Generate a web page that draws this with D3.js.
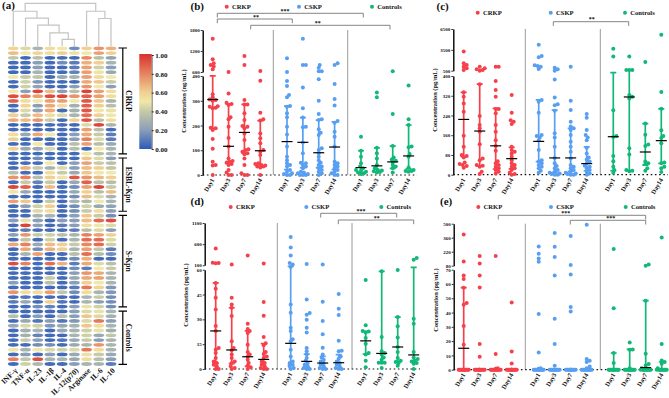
<!DOCTYPE html>
<html>
<head>
<meta charset="utf-8">
<script src="https://cdn.jsdelivr.net/npm/d3@7"></script>
<style>
  html, body { margin: 0; padding: 0; background: #fff; }
  svg { display: block; }
  text { font-family: "Liberation Serif", serif; font-weight: bold; fill: #111; }
</style>
</head>
<body>
<div id="chart"></div>
<script>
// Heatmap data
const cytokines = ['INF-γ', 'TNF-α', 'IL-23', 'IL-1β', 'IL-4', 'IL-12(p70)', 'Arginase', 'IL-6', 'IL-10'];
const heatRows = [
  [.58,.45,.3,.55,.5,.15,.6,.75,.68],
  [.65,.5,.58,.55,.6,.48,.5,.72,.6],
  [.38,.04,.35,.04,.06,.05,.78,.35,.22],
  [.05,.05,.2,.05,.15,.1,.68,.6,.3],
  [.04,.05,.2,.05,.05,.1,.72,.42,.2],
  [.04,.05,.3,.05,.05,.12,.72,.52,.25],
  [.5,.4,.38,.05,.25,.3,.72,.55,.5],
  [.05,.42,.18,.05,.05,.05,.7,.62,.4],
  [.05,.42,.22,.05,.05,.2,.75,.5,.2],
  [.5,.2,.95,.65,.2,.35,.95,.72,.55],
  [.93,.8,.72,.93,.95,.75,.88,.72,.55],
  [.88,.55,.5,.72,.72,.5,.9,.62,.3],
  [.05,.58,.2,.7,.55,.28,.88,.6,.35],
  [.08,.45,.22,.7,.05,.28,.9,.5,.48],
  [.6,.4,.65,.55,.45,.3,.85,.6,.5],
  [.7,.65,.75,.4,.05,.6,.92,.35,.55],
  [.03,.05,.05,.05,.05,.05,.45,.95,.3],
  [.05,.05,.05,.05,.05,.05,.72,.35,.05],
  [.55,.25,.7,.5,.05,.2,.7,.4,.1],
  [.6,.05,.05,.05,.05,.2,.8,.45,.1],
  [.05,.05,.5,.05,.05,.35,.72,.35,.25],
  [.6,.25,.25,.45,.05,.35,.05,.5,.3],
  [.05,.05,.05,.05,.05,.05,.5,.35,.3],
  [.05,.05,.15,.05,.05,.05,.62,.45,.2],
  [.05,.05,.05,.5,.05,.2,.72,.4,.35],
  [.05,.68,.4,.3,.45,.2,.65,.6,.38],
  [.35,.05,.05,.55,.4,.25,.62,.5,.5],
  [.75,.8,.35,.6,.52,.9,.75,.65,.6],
  [.05,.4,.12,.4,.05,.25,.88,.35,.35],
  [.95,.88,.05,.65,.05,.15,.72,.95,.4],
  [.52,.25,.05,.05,.05,.25,.6,.35,.65],
  [.05,.05,.05,.05,.05,.15,.65,.45,.3],
  [.72,.62,.05,.4,.05,.3,.32,.5,.3],
  [.05,.2,.42,.6,.05,.15,.42,.25,.22],
  [.05,.05,.45,.55,.05,.15,.4,.55,.2],
  [.05,.05,.3,.3,.05,.2,.62,.4,.15],
  [.2,.48,.2,.05,.2,.2,.65,.85,.93],
  [.05,.95,.2,.05,.1,.2,.55,.5,.45],
  [.05,.1,.05,.05,.05,.1,.35,.45,.2],
  [.2,.75,.4,.42,.35,.3,.8,.72,.6],
  [.05,.38,.05,.42,.05,.3,.85,.85,.45],
  [.7,.8,.25,.65,.6,.4,.78,.85,.42],
  [.05,.7,.15,.68,.6,.3,.72,.38,.1],
  [.05,.3,.72,.05,.05,.35,.85,.33,.15],
  [.05,.05,.05,.05,.05,.15,.68,.05,.05],
  [.93,.8,.05,.85,.68,.1,.7,.45,.35],
  [.05,.05,.05,.05,.05,.15,.1,.5,.4],
  [.05,.05,.05,.05,.05,.2,.75,.7,.3],
  [.05,.05,.05,.4,.05,.25,.7,.72,.3],
  [.2,.05,.05,.35,.05,.2,.6,.5,.3],
  [.05,.05,.05,.05,.05,.1,.82,.58,.18],
  [.75,.55,.55,.72,.38,.15,.55,.3,.18],
  [.05,.08,.05,.05,.05,.05,.3,.4,.15],
  [.1,.25,.05,.6,.08,.05,.3,.2,.15],
  [.05,.05,.15,.12,.05,.2,.48,.42,.15],
  [.05,.05,.05,.05,.05,.2,.45,.48,.3],
  [.35,.05,.2,.05,.35,.2,.62,.45,.28],
  [.05,.25,.08,.2,.08,.18,.45,.82,.2],
  [.25,.45,.42,.18,.25,.3,.62,.55,.3],
  [.05,.28,.3,.05,.25,.3,.42,.48,.28],
  [.05,.28,.12,.05,.05,.3,.42,.25,.38],
  [.05,.4,.2,.05,.08,.25,.4,.2,.3],
  [.05,.05,.15,.15,.05,.25,.3,.75,.3],
  [.52,.3,.5,.45,.42,.45,.82,.55,.3],
  [.05,.2,.05,.2,.05,.25,.48,.4,.25],
  [.8,.38,.92,.3,.3,.25,.55,.35,.2],
  [.05,.42,.32,.05,.05,.2,.3,.3,.1]
];
const heatGroups = [
  { name: 'CRKP', first: 0, last: 22 },
  { name: 'ESBL-Kpn', first: 23, last: 34 },
  { name: 'S-Kpn', first: 35, last: 54 },
  { name: 'Controls', first: 55, last: 66 }
];
const colorTicks = [0, 0.2, 0.4, 0.6, 0.8, 1];
// dendrogram: leaf = column index, node = { h, kids }
const dendro = { h: 43, kids: [
  { h: 35, kids: [0, { h: 28, kids: [1, { h: 21, kids: [2, { h: 13.3, kids: [3, { h: 6.7, kids: [4, 5] }] }] }] }] },
  { h: 35, kids: [6, { h: 27.7, kids: [7, 8] }] }
] };

// Scatter data, order: CRKP D1,3,7,14, CSKP D1,3,7,14, Controls D1,3,7,14
const days = ['Day1', 'Day3', 'Day7', 'Day14'];
const groupNames = ['CRKP', 'CSKP', 'Controls'];
const groupColors = ['#f5414b', '#589ff2', '#12b877'];

const bValues = [
  [1550,965,850,800,755,680,326,314,305,303,300,278,276,272,270,191,189,182,145,106,54,40,38,0],
  [600,329,292,287,283,233,225,195,150,115,67,57,54,50,44,40,20,10,0,0],
  [1060,800,303,285,285,249,222,198,195,188,168,141,104,101,94,88,84,67,40,7,0,0],
  [630,381,252,225,220,168,148,128,101,94,81,47,44,40,38,34,30,34,0],
  [990,600,380,360,323,314,279,276,249,233,195,164,115,74,60,47,40,34,20,13,7,4,0,0],
  [1550,800,800,354,270,232,195,193,131,88,50,47,40,34,27,13,10,7,4,0,0,0],
  [800,725,620,620,387,300,246,225,222,185,171,162,108,101,88,74,60,50,40,34,27,20,13,7,0],
  [850,800,368,307,281,218,211,175,155,115,54,47,40,34,27,20,13,7,0,0],
  [155,98,74,47,34,27,20,18,13,10,7,4],
  [333,314,110,88,67,40,27,20,18,15,12,10],
  [620,246,117,71,63,58,52,40,34,27,10],
  [362,225,202,115,112,85,74,30,20,16,13,16]
];
const bMedian = [305,116,172,98,135,132,90,113,30,37,53,77];
const bQ1 = [188,54,88,35,22,30,30,22,10,14,27,25];
const bQ3 = [408,287,285,220,278,232,222,215,98,110,117,202];

const cValues = [
  [3260,1565,1320,1080,840,600,334,316,289,255,158,113,80,76,70,49,43,39,35,28],
  [1080,840,700,600,500,367,238,201,188,174,123,66,59,39,36,32,12,3],
  [1080,1080,380,343,316,266,266,249,201,174,140,116,97,55,46,39,32,26,19,12,5],
  [323,251,221,215,205,113,100,93,86,73,59,46,39,32,26,19,8,3,0],
  [4230,2630,2440,1270,1180,1080,740,303,296,251,161,157,151,140,100,59,54,46,39,32,26,16,8],
  [935,694,500,386,313,286,281,259,168,151,113,68,46,35,26,19,12,8,5,3,0,0],
  [1080,300,262,215,195,188,181,161,134,113,93,66,39,32,26,19,12,8,5,3,0,0],
  [246,231,181,161,151,140,109,86,70,62,53,46,36,32,26,19,12,5,0],
  [3646,2530,261,153,157,76,55,32,19,8],
  [2530,600,600,600,323,316,309,107,82,19,16,14],
  [1760,207,162,122,116,54,46,42,26,16],
  [5680,335,267,180,157,149,127,49,46,32,26,11]
];
const cMedian = [224,177,117,65,135,68,68,45,154,315,92,138];
const cQ1 = [73,36,23,24,53,10,14,16,16,16,39,46];
const cQ3 = [334,367,269,111,303,262,188,113,462,600,207,267];

const dValues = [
  [495,163,155,147,52,48.5,43,36,26,23,12.7,11.7,9.7,6.6,4.6,3.6,2.6,1.6,0,0],
  [116,43,39,37,32,16.7,12.7,11.3,8.7,6.6,4.6,3.6,1.6,.6,0],
  [330,27.4,24.2,23,21.7,14.7,10.3,8.7,7.4,5.6,3.6,2,1,0],
  [140,40.5,32.2,19.3,15.5,14.3,10.3,9,7.6,6.6,4.6,3.6,2.6,1.6,.6,0,0],
  [770,520,330,155,116,85,39,34,25,23,18,16.7,11.7,7.6,4.6,3.6,2.6,1.6,.6,0],
  [130,42,33.8,32.8,29.8,25,22,12.7,10.7,8.7,6.6,5,3.6,2.6,1.6,.6,0,0],
  [116,40.7,29,21,12.9,8.7,7,5.6,4.6,3.6,2.6,1.6,.6,0,0],
  [45.3,36.4,32.6,17,11,10.7,7.6,6.2,4.6,3.6,2.6,1.6,.6,0,0],
  [53.8,26.4,23,22.7,22,18.7,15.3,9.7,8.7,5,1],
  [59,19.3,10.7,9.7,8.7,7,5.6,3.8,3.8,3.8,.6],
  [59.8,31.4,25.8,19,13.3,10.3,6.6,5,4.2,3.6,2],
  [274,234,30.4,27.4,10.3,7,6,5.2,4.6,3.6,3.2,0]
];
const dMedian = [23,11.5,7.4,5.8,15.5,4.6,3.6,3.8,17,9.4,13.3,8.5];
const dQ1 = [3.4,3.2,1.6,.2,2.6,1,.6,.6,9,3.8,4.6,4.6];
const dQ3 = [52,37,23,15.3,90,9,7.6,8.7,22.7,59,31.4,82];

const eValues = [
  [393,123,66,63.5,57.4,46.7,45.5,30.6,17.5,0,0,0,0,0,0,0,0,0,0,0,0],
  [177,103,66,57.6,18,9,0,0,0,0,0,0,0,0,0,0,0,0,0,0],
  [177,11,1,.7,0,0,0,0,0,0,0,0,0,0,0,0],
  [47,12.8,4.4,0,0,0,0,0,0,0,0,0,0,0,0,0,0],
  [273,200,153,120,39,12,1,.7,0,0,0,0,0,0,0,0,0,0,0,0],
  [407,270,167,66,35.7,18,2.8,0,0,0,0,0,0,0,0,0,0,0,0],
  [377,87,66.7,43.9,40.8,0,0,0,0,0,0,0,0,0,0,0,0,0,0],
  [490,7.5,6.3,5.4,2.3,1,0,0,0,0,0,0,0,0,0,0,0,0],
  [247,43,11.7,4.7,0,0,0,0,0,0,0,0,0,0,0,0],
  [19,14.2,14,1,0,0,0,0,0,0,0,0,0,0,0,0],
  [93,80,48.3,11.2,4,3,1,0,0,0,0,0,0,0,0,0,0],
  [363,18,6.5,5.4,4.2,1,0,0,0,0,0,0,0,0,0,0]
];
const eMedian = [15,0,0,0,0,0,0,0,0,0,1.5,0];
const eQ1 = [0,0,0,0,0,0,0,0,0,0,0,0];
const eQ3 = [57.4,0,0,0,0,0,0,0,11.7,14.2,48.3,5.4];

const bLowTicks = [0,100,200,300,400], bHighTicks = [600,1200,1800];
const cLowTicks = [0,80,160,240,320,400], cHighTicks = [500,3500,6500];
const dLowTicks = [0,15,30,45,60], dHighTicks = [100,600,1100];
const eLowTicks = [0,10,20,30,40,50,60,70], eHighTicks = [80,220,360,500];

const width = 669, height = 398;
const svg = d3.select('#chart').append('svg').attr('width', width).attr('height', height);

const heatColor = d3.scaleLinear()
  .domain([0, 0.2, 0.4, 0.5, 0.6, 0.8, 1])
  .range(['#2b5ab8', '#8a9eb8', '#c6caa6', '#f0e8a8', '#f1cf90', '#e6805e', '#d9302c']);

function drawHeatmap() {
  const x = d3.scalePoint().domain(d3.range(cytokines.length)).range([13.3, 111]);
  const y = d3.scaleLinear().domain([0, heatRows.length - 1]).range([48.3, 364]);
  const g = svg.append('g');

  g.append('text').attr('x', 2).attr('y', 9).style('font-size', '11px').text('(a)');

  heatRows.forEach((row, r) => {
    g.selectAll(null).data(row).enter().append('ellipse')
      .attr('cx', (d, i) => x(i))
      .attr('cy', y(r))
      .attr('rx', 5.4)
      .attr('ry', 1.9)
      .attr('fill', d => heatColor(d));
  });

  // dendrogram
  const h = d3.scaleLinear().domain([0, dendro.h]).range([46, 3.3]);
  const walk = node => {
    if (typeof node === 'number') return { px: x(node), py: h(0) };
    const [a, b] = node.kids.map(walk);
    const top = h(node.h);
    g.append('path')
      .attr('d', `M${a.px},${a.py}V${top}H${b.px}V${b.py}`)
      .attr('fill', 'none').attr('stroke', '#c4c4c4').attr('stroke-width', 1.2);
    return { px: (a.px + b.px) / 2, py: top };
  };
  walk(dendro);

  // group brackets
  heatGroups.forEach(d => {
    const y0 = y(d.first) - 0.3, y1 = y(d.last) + 0.3;
    g.append('path')
      .attr('d', `M118.5,${y0}H127M122.8,${y0}V${y1}M118.5,${y1}H127`)
      .attr('fill', 'none').attr('stroke', '#000').attr('stroke-width', 1.2);
    const my = (y0 + y1) / 2;
    g.append('text')
      .attr('transform', `translate(126,${my}) rotate(90)`)
      .attr('text-anchor', 'middle')
      .style('font-size', '7.5px')
      .text(d.name);
  });

  // column labels
  g.selectAll(null).data(cytokines).enter().append('text')
    .attr('transform', (d, i) => `translate(${x(i) + 4.5},371) rotate(-45)`)
    .attr('text-anchor', 'end')
    .style('font-size', '7.6px')
    .text(d => d);

  // colour bar
  const cy = d3.scaleLinear().domain([0, 1]).range([149, 55]);
  const defs = svg.append('defs');
  const grad = defs.append('linearGradient').attr('id', 'bar').attr('x1', 0).attr('x2', 0).attr('y1', 1).attr('y2', 0);
  heatColor.domain().forEach(v => {
    grad.append('stop').attr('offset', v).attr('stop-color', heatColor(v));
  });
  g.append('rect').attr('x', 139.3).attr('y', cy(1) - 1).attr('width', 12.4).attr('height', cy(0) - cy(1) + 1).attr('fill', 'url(#bar)');
  const axis = d3.axisRight(cy).tickValues(colorTicks).tickFormat(d3.format('.2f')).tickSize(2).tickPadding(1.5).tickSizeOuter(0);
  const ag = g.append('g').attr('transform', 'translate(151.7,0)').call(axis);
  ag.selectAll('text').style('font-size', '7px');
  ag.select('.domain').attr('stroke', '#222').attr('stroke-width', 0.6);
  ag.selectAll('line').attr('stroke', '#222');
}

// spreads the points of one column sideways so that they do not pile up
function dodge(values, y, maxWidth) {
  const placed = [];
  const steps = d3.range(0, maxWidth + 0.01, 1).flatMap(d => d === 0 ? [0] : [d, -d]);
  return [...values].sort((a, b) => a - b).map(v => {
    const py = y(v);
    let best = 0, bestDist = -1;
    for (const off of steps) {
      let dist = Infinity;
      placed.forEach(p => { dist = Math.min(dist, Math.hypot(p.off - off, p.py - py)); });
      if (dist >= 2.8) { best = off; bestDist = Infinity; break; }
      if (dist > bestDist) { bestDist = dist; best = off; }
    }
    const pt = { v, off: best, py };
    placed.push(pt);
    return pt;
  });
}

function drawPanel(p) {
  const g = svg.append('g');

  // broken y axis made of two linear parts
  const yLow = d3.scaleLinear().domain([p.lowTicks[0], p.lowTicks[p.lowTicks.length - 1]]).range([p.y0, p.yBreakLow]);
  const yHigh = d3.scaleLinear().domain([p.highTicks[0], p.highTicks[p.highTicks.length - 1]]).range([p.yBreakHigh, p.yTop]);
  const y = d3.scaleLinear()
    .domain([...yLow.domain(), ...yHigh.domain()])
    .range([...yLow.range(), ...yHigh.range()]);

  const x = d3.scaleLinear().domain([0, 3]).range(p.x0);
  const colX = i => p.groupStart[Math.floor(i / 4)] + (x(i % 4) - x(0));

  g.append('text').attr('x', p.labelX).attr('y', p.labelY).style('font-size', '11px').text(p.label);

  // separators
  g.selectAll(null).data(p.seps).enter().append('line')
    .attr('x1', d => d).attr('x2', d => d)
    .attr('y1', p.yTop).attr('y2', p.y0)
    .attr('stroke', '#9a9a9a').attr('stroke-width', 1);

  // axes
  [[yLow, p.lowTicks], [yHigh, p.highTicks]].forEach(([scale, ticks]) => {
    const a = g.append('g').attr('transform', `translate(${p.axisX},0)`)
      .call(d3.axisLeft(scale).tickValues(ticks).tickFormat(d3.format('d')).tickSize(2).tickSizeOuter(0).tickPadding(1));
    a.select('.domain').attr('stroke', '#000').attr('stroke-width', 1.4);
    a.selectAll('line').attr('stroke', '#000').attr('stroke-width', 0.8);
    a.selectAll('text').style('font-size', '5px');
  });

  g.append('line')
    .attr('x1', p.axisX).attr('x2', p.axisEnd)
    .attr('y1', p.y0).attr('y2', p.y0)
    .attr('stroke', '#111').attr('stroke-width', 1.2).attr('stroke-dasharray', '1.6,2.6');

  g.append('text')
    .attr('transform', `translate(${p.yLabelX},${p.yLabelY}) rotate(-90)`)
    .attr('text-anchor', 'middle')
    .style('font-size', '6.4px')
    .text(p.yLabel);

  // legend
  groupNames.forEach((name, i) => {
    g.append('circle').attr('cx', p.legendX[i]).attr('cy', p.legendY).attr('r', 2).attr('fill', groupColors[i]);
    g.append('text').attr('x', p.legendX[i] + 5.3).attr('y', p.legendY + 2.2).style('font-size', '6.6px').text(name);
  });

  // columns
  p.values.forEach((vals, i) => {
    const color = groupColors[Math.floor(i / 4)];
    const cx = colX(i);
    if (p.q3[i] > 0) {
      g.append('path')
        .attr('d', `M${cx - 3},${y(p.q3[i])}H${cx + 3}M${cx},${y(p.q3[i])}V${y(p.q1[i])}M${cx - 3},${y(p.q1[i])}H${cx + 3}`)
        .attr('fill', 'none').attr('stroke', color).attr('stroke-width', 1.7);
    }
    g.selectAll(null).data(dodge(vals, y, 5)).enter().append('circle')
      .attr('cx', d => cx + d.off)
      .attr('cy', d => d.py)
      .attr('r', 2)
      .attr('fill', color);
    if (p.median[i] > 0) {
      g.append('line')
        .attr('x1', cx - 5.5).attr('x2', cx + 5.5)
        .attr('y1', y(p.median[i])).attr('y2', y(p.median[i]))
        .attr('stroke', '#000').attr('stroke-width', 1.2);
    }
    g.append('text')
      .attr('transform', `translate(${cx + 2},${p.y0 + 5}) rotate(-60)`)
      .attr('text-anchor', 'end')
      .style('font-size', '6.4px')
      .text(days[i % 4]);
  });

  // significance brackets
  p.brackets.forEach(b => {
    g.append('path')
      .attr('d', `M${b.from},${b.y + 4.2}V${b.y}H${b.to}V${b.y + 4.2}`)
      .attr('fill', 'none').attr('stroke', '#777').attr('stroke-width', 0.9);
    g.append('text')
      .attr('x', b.sx).attr('y', b.y - 0.3)
      .attr('text-anchor', 'middle')
      .style('font-size', '6px')
      .text(b.stars);
  });
}

drawHeatmap();

drawPanel({
  label: '(b)', labelX: 190.5, labelY: 10,
  values: bValues, median: bMedian, q1: bQ1, q3: bQ3,
  lowTicks: bLowTicks, highTicks: bHighTicks,
  y0: 175, yBreakLow: 76, yBreakHigh: 72, yTop: 30,
  axisX: 202.7, axisEnd: 417,
  x0: [212.7, 260.3], groupStart: [212.7, 287, 361],
  seps: [273.3, 347.7],
  yLabel: 'Concentration (ng/mL)', yLabelX: 185.5, yLabelY: 101,
  legendX: [226.7, 299, 372], legendY: 6.7,
  brackets: [
    { from: 217.3, to: 363.3, y: 13.3, sx: 285, stars: '***' },
    { from: 217.3, to: 292.3, y: 19, sx: 256, stars: '**' },
    { from: 250.7, to: 390, y: 25.3, sx: 317.7, stars: '**' }
  ]
});

drawPanel({
  label: '(c)', labelX: 436.5, labelY: 10,
  values: cValues, median: cMedian, q1: cQ1, q3: cQ3,
  lowTicks: cLowTicks, highTicks: cHighTicks,
  y0: 174.7, yBreakLow: 76, yBreakHigh: 70.7, yTop: 29,
  axisX: 453.3, axisEnd: 668,
  x0: [463.7, 511.7], groupStart: [463.7, 538.7, 613.3],
  seps: [525.3, 600.3],
  yLabel: 'Concentration (pg/mL)', yLabelX: 437, yLabelY: 100,
  legendX: [477.7, 550.7, 625], legendY: 12.7,
  brackets: [
    { from: 553.3, to: 628.7, y: 21.7, sx: 591.7, stars: '**' }
  ]
});

drawPanel({
  label: '(d)', labelX: 190.5, labelY: 205,
  values: dValues, median: dMedian, q1: dQ1, q3: dQ3,
  lowTicks: dLowTicks, highTicks: dHighTicks,
  y0: 369, yBreakLow: 269.7, yBreakHigh: 265.3, yTop: 223,
  axisX: 204.7, axisEnd: 420,
  x0: [215.7, 263.7], groupStart: [215.7, 290.7, 365.7],
  seps: [277.3, 352],
  yLabel: 'Concentration (pg/mL)', yLabelX: 188, yLabelY: 295,
  legendX: [230.7, 306.3, 381.3], legendY: 207,
  brackets: [
    { from: 320.7, to: 396.7, y: 213.3, sx: 361, stars: '***' },
    { from: 338.3, to: 413.7, y: 220, sx: 376.7, stars: '**' }
  ]
});

drawPanel({
  label: '(e)', labelX: 440, labelY: 205,
  values: eValues, median: eMedian, q1: eQ1, q3: eQ3,
  lowTicks: eLowTicks, highTicks: eHighTicks,
  y0: 369.7, yBreakLow: 269.7, yBreakHigh: 265.7, yTop: 223.7,
  axisX: 453.7, axisEnd: 668,
  x0: [463.7, 511.7], groupStart: [463.7, 538.7, 613.7],
  seps: [525.3, 600.3],
  yLabel: 'Concentration (pg/mL)', yLabelX: 438, yLabelY: 300,
  legendX: [478.3, 551, 625.7], legendY: 207,
  brackets: [
    { from: 498.3, to: 645.7, y: 215.3, sx: 565.7, stars: '***' },
    { from: 570.3, to: 645.7, y: 220.3, sx: 610.7, stars: '***' }
  ]
});
</script>
</body>
</html>
